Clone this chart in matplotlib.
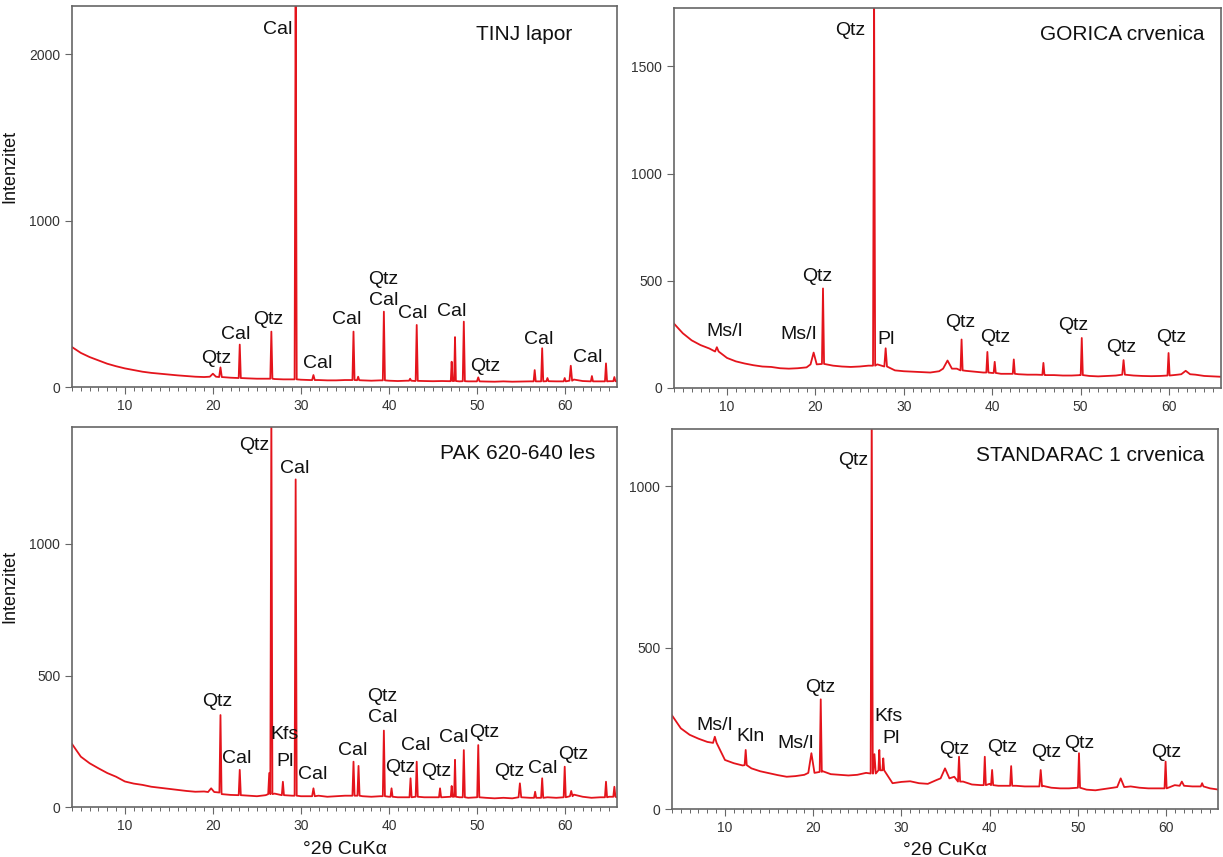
import numpy as np
import matplotlib.pyplot as plt
from matplotlib.ticker import MultipleLocator

plt.rcParams['font.family'] = ['Liberation Sans', 'DejaVu Sans']

# background grid (degrees 2-theta)
two_theta = list(range(4, 67))

# ---- TINJ lapor ----
tinj_bg = [240, 205, 180, 160, 140, 125, 112, 102, 92, 85, 80, 75, 70, 66, 62, 60, 68,
           60, 56, 54, 52, 50, 50, 48, 46, 46, 44, 42, 42, 40, 40, 42, 42, 40, 38, 40,
           38, 36, 38, 36, 36, 35, 36, 35, 34, 34, 34, 33, 32, 34, 32, 33, 34, 34, 35,
           34, 36, 45, 36, 34, 34, 35, 33]
tinj_pos = [20.0, 20.86, 23.05, 26.64, 29.40, 31.42, 35.97, 36.5, 39.42, 42.4, 43.15,
            47.12, 47.50, 48.50, 50.14, 56.55, 57.40, 58.0, 59.96, 60.65, 63.05, 64.65, 65.6]
tinj_top = [80, 118, 255, 333, 2500, 72, 333, 62, 453, 50, 373,
            152, 300, 393, 58, 102, 233, 54, 54, 128, 66, 142, 60]
tinj_base = [62, 60, 54, 50, 46, 42, 42, 41, 40, 38, 37,
             36, 36, 35, 34, 34, 34, 35, 34, 38, 34, 34, 35]
tinj_hw = [0.35, 0.15, 0.12, 0.12, 0.12, 0.15, 0.12, 0.12, 0.12, 0.12, 0.12,
           0.1, 0.1, 0.12, 0.15, 0.12, 0.12, 0.12, 0.12, 0.15, 0.12, 0.12, 0.12]

# ---- GORICA crvenica ----
gorica_bg = [300, 255, 222, 200, 184, 165, 140, 124, 114, 106, 100, 98, 92, 90, 92, 96, 130,
             112, 104, 100, 98, 100, 104, 110, 100, 82, 78, 76, 74, 72, 78, 120, 90, 80, 76,
             72, 70, 66, 66, 64, 62, 62, 60, 60, 58, 58, 60, 56, 54, 56, 58, 68, 58, 56, 55,
             56, 60, 62, 70, 62, 56, 54, 52]
gorica_pos = [8.85, 19.8, 20.86, 26.64, 27.95, 34.95, 36.54, 39.46, 40.29, 42.45, 45.8,
              50.14, 54.87, 59.96, 61.9]
gorica_top = [190, 165, 464, 1850, 185, 128, 226, 168, 122, 133, 117, 233, 130, 163, 80]
gorica_base = [170, 110, 112, 104, 100, 90, 82, 72, 70, 66, 61, 60, 62, 58, 64]
gorica_hw = [0.2, 0.35, 0.12, 0.12, 0.15, 0.5, 0.12, 0.12, 0.12, 0.12, 0.12,
             0.12, 0.15, 0.12, 0.5]

# ---- PAK 620-640 les ----
pak_bg = [240, 192, 167, 148, 130, 116, 98, 90, 85, 78, 74, 70, 66, 62, 59, 60, 64,
          50, 47, 46, 44, 42, 46, 52, 46, 44, 42, 42, 44, 40, 42, 44, 46, 42, 40, 42,
          40, 38, 38, 40, 38, 38, 38, 40, 38, 36, 38, 36, 34, 36, 34, 40, 36, 36, 38,
          36, 40, 48, 40, 36, 38, 40, 36]
pak_pos = [19.8, 20.86, 23.05, 26.40, 26.64, 27.95, 29.40, 31.42, 35.97, 36.54, 39.42,
           40.29, 42.45, 43.15, 45.8, 47.12, 47.50, 48.50, 50.14, 54.87, 56.6, 57.40,
           59.96, 60.7, 64.65, 65.6]
pak_top = [72, 350, 142, 130, 1500, 97, 1244, 72, 173, 157, 291,
           72, 110, 173, 72, 81, 180, 217, 236, 91, 59, 110,
           154, 62, 97, 78]
pak_base = [58, 56, 46, 50, 50, 46, 44, 42, 44, 44, 42,
            40, 38, 40, 38, 40, 40, 38, 38, 38, 36, 36,
            38, 42, 38, 40]
pak_hw = [0.35, 0.12, 0.12, 0.12, 0.12, 0.12, 0.12, 0.15, 0.12, 0.12, 0.12,
          0.12, 0.12, 0.12, 0.12, 0.1, 0.1, 0.12, 0.12, 0.15, 0.12, 0.12,
          0.12, 0.15, 0.12, 0.12]

# ---- STANDARAC 1 crvenica ----
std_bg = [290, 250, 230, 218, 208, 190, 152, 142, 135, 126, 117, 111, 105, 100, 102, 106, 150,
          118, 108, 106, 104, 106, 112, 160, 110, 80, 84, 86, 80, 78, 90, 118, 100, 85, 76,
          74, 78, 72, 72, 72, 70, 70, 72, 66, 64, 64, 66, 60, 58, 62, 66, 90, 70, 66, 64,
          64, 72, 74, 80, 70, 72, 64, 60]
std_pos = [8.85, 12.35, 19.8, 20.86, 26.64, 26.95, 27.5, 27.95, 34.95, 36.54, 39.46,
           40.29, 42.45, 45.8, 50.14, 54.87, 59.96, 61.8, 64.1]
std_top = [224, 183, 173, 340, 1250, 170, 183, 157, 126, 162, 162,
           121, 133, 121, 173, 95, 147, 85, 80]
std_base = [205, 136, 112, 115, 110, 110, 120, 120, 95, 85, 74,
            74, 72, 70, 66, 68, 64, 72, 70]
std_hw = [0.2, 0.12, 0.35, 0.12, 0.12, 0.15, 0.1, 0.1, 0.5, 0.12, 0.12,
          0.12, 0.12, 0.15, 0.12, 0.4, 0.12, 0.25, 0.15]

# peak labels: (text, 2theta, intensity)
tinj_labels = [('Cal', 27.4, 2147), ('Qtz', 20.4, 172), ('Cal', 22.56, 313), ('Qtz', 26.33, 407),
               ('Cal', 31.93, 142), ('Cal', 35.14, 403), ('Qtz', 39.3, 648), ('Cal', 39.4, 523),
               ('Cal', 42.7, 439), ('Cal', 47.16, 453), ('Qtz', 50.94, 122), ('Cal', 56.98, 283),
               ('Cal', 62.58, 179)]
gorica_labels = [('Qtz', 24.0, 1667), ('Ms/I', 9.7, 265), ('Ms/I', 18.1, 249), ('Qtz', 20.2, 521),
                 ('Pl', 27.96, 226), ('Qtz', 36.36, 303), ('Qtz', 40.33, 233), ('Qtz', 49.22, 293),
                 ('Qtz', 54.63, 191), ('Qtz', 60.3, 233)]
pak_labels = [('Qtz', 24.74, 1374), ('Cal', 29.27, 1286), ('Qtz', 20.47, 403), ('Cal', 22.66, 186),
              ('Kfs', 28.14, 277), ('Pl', 28.14, 173), ('Cal', 31.35, 123), ('Cal', 35.9, 215),
              ('Qtz', 39.22, 420), ('Cal', 39.3, 340), ('Qtz', 41.26, 150), ('Cal', 43.0, 234),
              ('Qtz', 45.4, 135), ('Cal', 47.3, 264), ('Qtz', 50.8, 284), ('Qtz', 53.65, 135),
              ('Cal', 57.43, 148), ('Qtz', 60.9, 201)]
std_labels = [('Qtz', 24.49, 1080), ('Ms/I', 8.87, 258), ('Kln', 12.92, 224), ('Ms/I', 18.06, 202),
              ('Qtz', 20.78, 376), ('Kfs', 28.53, 286), ('Pl', 28.8, 219), ('Qtz', 36.0, 185),
              ('Qtz', 41.43, 190), ('Qtz', 46.38, 176), ('Qtz', 50.16, 204), ('Qtz', 60.0, 176)]


def build_curve(bg, pos, top, base, hw):
    pts = [(t, v) for t, v in zip(two_theta, bg)
           if all(abs(t - p) > w for p, w in zip(pos, hw))]
    for p, h, b, w in zip(pos, top, base, hw):
        pts += [(p - w, b), (p, h), (p + w, b)]
    pts.sort()
    x, y = zip(*pts)
    return np.array(x), np.array(y)


panels = [
    ([0.0589, 0.5484, 0.4456, 0.4446], tinj_bg, tinj_pos, tinj_top, tinj_base, tinj_hw,
     tinj_labels, 'TINJ lapor', (0.917, 0.926), 2290, [0, 1000, 2000], True, False),
    ([0.5511, 0.5473, 0.4473, 0.4434], gorica_bg, gorica_pos, gorica_top, gorica_base, gorica_hw,
     gorica_labels, 'GORICA crvenica', (0.969, 0.931), 1772, [0, 500, 1000, 1500], False, False),
    ([0.0589, 0.0580, 0.4456, 0.4441], pak_bg, pak_pos, pak_top, pak_base, pak_hw,
     pak_labels, 'PAK 620-640 les', (0.961, 0.930), 1444, [0, 500, 1000], True, True),
    ([0.5495, 0.0560, 0.4464, 0.4434], std_bg, std_pos, std_top, std_base, std_hw,
     std_labels, 'STANDARAC 1 crvenica', (0.975, 0.929), 1178, [0, 500, 1000], False, True),
]

fig = plt.figure(figsize=(12.23, 8.57), dpi=100)
red = '#e4141c'

for rect, bg, pos, top, base, hw, labels, title, tpos, ymax, yticks, ylab, xlab in panels:
    ax = fig.add_axes(rect)
    x, y = build_curve(bg, pos, top, base, hw)
    ax.plot(x, y, color=red, lw=1.3)
    ax.set_xlim(4, 65.9)
    ax.set_ylim(0, ymax)
    ax.set_xticks([10, 20, 30, 40, 50, 60])
    ax.xaxis.set_minor_locator(MultipleLocator(1))
    ax.set_yticks(yticks)
    ax.tick_params(axis='both', labelsize=10, colors='#333333', direction='out')
    ax.tick_params(axis='x', which='major', length=5, width=0.8, color='#666666')
    ax.tick_params(axis='x', which='minor', length=3, width=0.7, color='#666666')
    ax.tick_params(axis='y', length=5, width=0.8, color='#666666')
    for s in ax.spines.values():
        s.set_color('#666666')
        s.set_linewidth(1.2)
    for txt, tx, ty in labels:
        ax.text(tx, ty, txt, ha='center', va='center', fontsize=14, color='#111111')
    ax.text(tpos[0], tpos[1], title, transform=ax.transAxes, ha='right', va='center',
            fontsize=15, color='#111111')
    if ylab:
        ax.set_ylabel('Intenzitet', fontsize=13, color='#111111')
        ax.yaxis.set_label_coords(-0.0985, 0.58)
    if xlab:
        ax.set_xlabel('°2θ CuKα', fontsize=14, color='#111111')
        ax.xaxis.set_label_coords(0.5, -0.088)

fig.savefig('out.png', dpi=100)
